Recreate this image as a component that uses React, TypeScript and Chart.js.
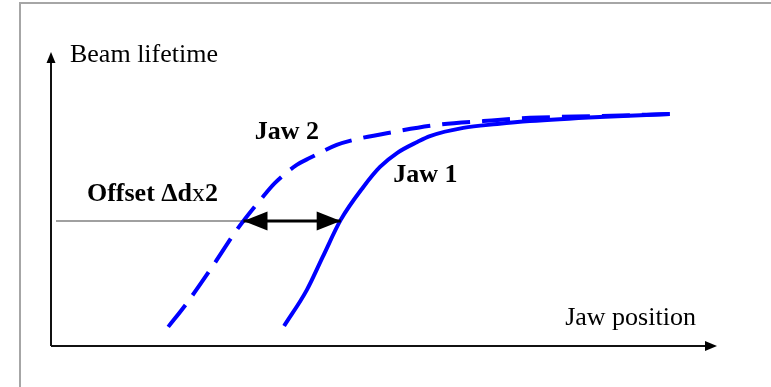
import React, { useEffect, useRef } from "react";
import { Chart, registerables } from "chart.js";

Chart.register(...registerables);

// ---- data (schematic units: 0..100 on both axes) ----
const jaw1X = [35.0, 38.4, 40.8, 43.5, 46.9, 49.4, 52.0, 55.0, 56.9, 61.9, 67.0, 71.9, 82.4, 92.9];
const jaw1Y = [6.8, 19.0, 30.3, 42.9, 54.1, 60.9, 65.7, 69.4, 71.4, 74.2, 75.5, 76.5, 77.9, 78.9];
const jaw2X = [17.6, 20.4, 24.2, 27.9, 31.8, 33.6, 36.9, 38.9, 42.9, 45.4, 51.4, 58.0, 64.9, 71.9, 82.4, 92.9];
const jaw2Y = [6.5, 14.6, 26.9, 39.5, 50.7, 55.4, 61.6, 64.0, 68.4, 70.1, 72.8, 75.2, 76.5, 77.6, 78.2, 78.9];
const axisExtentX = [0, 100];
const axisExtentY = [0, 100];
const offsetLevel = 42.5;
const guideLineX = [0.75, 28.9];
const offsetArrowX = [28.9, 43.5];

const labelTexts = ["Beam lifetime", "Jaw position", "Jaw 2", "Jaw 1", "Offset Δdx2"];
const labelX = [2.85, 77.2, 30.6, 51.4, 5.4];
const labelY = [96.6, 7.1, 70.4, 55.8, 49.3];
const labelBold = [false, false, true, true, true];

const SERIF = '"Liberation Serif", "Times New Roman", serif';

function toPoints(xs: number[], ys: number[]) {
  return xs.map((v, i) => ({ x: v, y: ys[i] }));
}

function arrowHead(
  ctx: CanvasRenderingContext2D,
  tipX: number,
  tipY: number,
  dx: number,
  dy: number,
  len: number,
  half: number
) {
  const bx = tipX + dx * len;
  const by = tipY + dy * len;
  const nx = -dy;
  const ny = dx;
  ctx.beginPath();
  ctx.moveTo(tipX, tipY);
  ctx.lineTo(bx + nx * half, by + ny * half);
  ctx.lineTo(bx - nx * half, by - ny * half);
  ctx.closePath();
  ctx.fill();
}

const overlayPlugin = {
  id: "schematicOverlay",
  afterDatasetsDraw(chart: any) {
    const ctx: CanvasRenderingContext2D = chart.ctx;
    const xs = chart.scales.x;
    const ys = chart.scales.y;
    const px = (v: number) => xs.getPixelForValue(v);
    const py = (v: number) => ys.getPixelForValue(v);
    ctx.save();
    ctx.fillStyle = "#000";
    arrowHead(ctx, px(axisExtentX[1]), py(0), -1, 0, 12, 5);
    arrowHead(ctx, px(0), py(axisExtentY[1]), 0, 1, 11, 4.5);
    const ay = py(offsetLevel);
    arrowHead(ctx, px(offsetArrowX[0]), ay, 1, 0, 24, 9.5);
    arrowHead(ctx, px(offsetArrowX[1]), ay, -1, 0, 24, 9.5);
    ctx.textBaseline = "alphabetic";
    ctx.textAlign = "left";
    labelTexts.forEach((t, i) => {
      let x = px(labelX[i]);
      const y = py(labelY[i]);
      const bold = labelBold[i];
      const runs: { s: string; b: boolean }[] = [];
      if (bold && t.includes("dx")) {
        const k = t.indexOf("dx") + 1;
        runs.push({ s: t.slice(0, k), b: true });
        runs.push({ s: t.slice(k, k + 1), b: false });
        runs.push({ s: t.slice(k + 1), b: true });
      } else {
        runs.push({ s: t, b: bold });
      }
      runs.forEach((r) => {
        ctx.font = `${r.b ? "bold " : ""}26px ${SERIF}`;
        ctx.fillText(r.s, x, y);
        x += ctx.measureText(r.s).width;
      });
    });
    ctx.restore();
  },
};

export default function App() {
  const ref = useRef<HTMLCanvasElement | null>(null);
  useEffect(() => {
    if (!ref.current) return;
    const chart = new Chart(ref.current, {
      type: "scatter",
      data: {
        datasets: [
          {
            label: "Jaw 1",
            data: toPoints(jaw1X, jaw1Y),
            showLine: true,
            borderColor: "#0000ff",
            borderWidth: 4,
            pointRadius: 0,
            cubicInterpolationMode: "monotone",
            order: 2,
          },
          {
            label: "Jaw 2",
            data: toPoints(jaw2X, jaw2Y),
            showLine: true,
            borderColor: "#0000ff",
            borderWidth: 4,
            borderDash: [28, 12],
            pointRadius: 0,
            cubicInterpolationMode: "monotone",
            order: 3,
          },
          {
            label: "guide",
            data: toPoints(guideLineX, [offsetLevel, offsetLevel]),
            showLine: true,
            borderColor: "#808080",
            borderWidth: 1.5,
            pointRadius: 0,
            order: 4,
          },
          {
            label: "offset",
            data: toPoints(offsetArrowX, [offsetLevel, offsetLevel]),
            showLine: true,
            borderColor: "#000",
            borderWidth: 3,
            pointRadius: 0,
            order: 1,
          },
          {
            label: "x axis",
            data: toPoints(axisExtentX.map((v, i) => (i ? v - 1 : v)), [0, 0]),
            showLine: true,
            borderColor: "#111",
            borderWidth: 2,
            pointRadius: 0,
            order: 5,
          },
          {
            label: "y axis",
            data: toPoints([0, 0], axisExtentY.map((v, i) => (i ? v - 1 : v))),
            showLine: true,
            borderColor: "#111",
            borderWidth: 2,
            pointRadius: 0,
            order: 5,
          },
        ],
      },
      options: {
        animation: false,
        responsive: false,
        maintainAspectRatio: false,
        devicePixelRatio: 1,
        layout: { padding: 0 },
        scales: {
          x: { type: "linear", display: false, min: -7.658, max: 108.108 },
          y: { type: "linear", display: false, min: -13.946, max: 117.687 },
        },
        plugins: {
          legend: { display: false },
          tooltip: { enabled: false },
        },
      },
      plugins: [overlayPlugin],
    } as any);
    return () => chart.destroy();
  }, []);

  return (
    <div style={{ position: "absolute", left: 0, top: 0, width: 771, height: 387, overflow: "hidden", background: "#fff" }}>
      <div
        style={{
          position: "absolute",
          left: 19,
          top: 2,
          width: 780,
          height: 400,
          borderLeft: "2px solid #a6a6a6",
          borderTop: "2px solid #a6a6a6",
        }}
      />
      <canvas ref={ref} width={771} height={387} style={{ position: "absolute", left: 0, top: 0 }} />
    </div>
  );
}
